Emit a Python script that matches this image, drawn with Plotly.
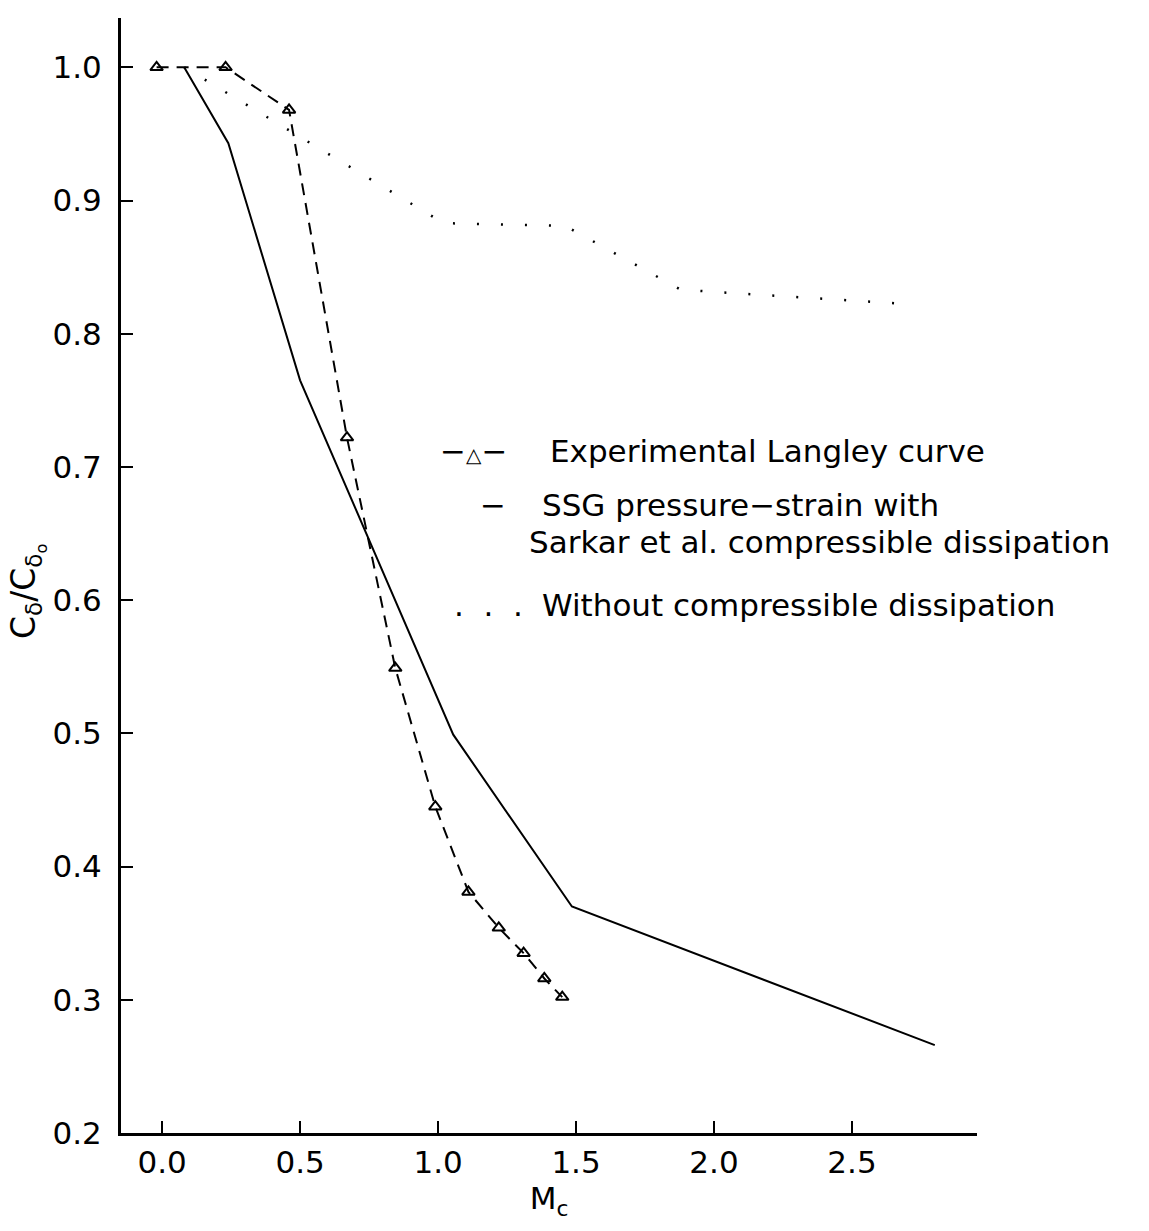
import plotly.graph_objects as go

# Experimental Langley curve
exp_mc = [-0.02, 0.23, 0.46, 0.67, 0.845, 0.99, 1.11, 1.22, 1.31, 1.385, 1.45]
exp_val = [1.000, 1.000, 0.968, 0.722, 0.549, 0.445, 0.381, 0.354, 0.335, 0.316, 0.302]

# SSG pressure-strain with Sarkar et al. compressible dissipation
ssg_mc = [0.08, 0.24, 0.50, 1.055, 1.485, 2.80]
ssg_val = [1.000, 0.943, 0.765, 0.499, 0.370, 0.266]

# Without compressible dissipation
nocd_mc = [0.08, 1.02, 1.46, 1.88, 2.72]
nocd_val = [1.000, 0.883, 0.881, 0.833, 0.822]

x_ticks = [0.0, 0.5, 1.0, 1.5, 2.0, 2.5]
x_ticklabels = ["0.0", "0.5", "1.0", "1.5", "2.0", "2.5"]
y_ticks = [0.2, 0.3, 0.4, 0.5, 0.6, 0.7, 0.8, 0.9, 1.0]
y_ticklabels = ["0.2", "0.3", "0.4", "0.5", "0.6", "0.7", "0.8", "0.9", "1.0"]

legend_symbols = ["\u2212<span style='font-size:20px'>\u25b3</span>\u2212", "\u2212", ".&nbsp;&nbsp;.&nbsp;&nbsp;."]
legend_lines = ["Experimental Langley curve", "SSG pressure\u2212strain with",
                "Sarkar et al. compressible dissipation", "Without compressible dissipation"]

FONT = "DejaVu Sans"
FS = 31

fig = go.Figure()
fig.add_trace(go.Scatter(
    x=exp_mc, y=exp_val, mode="lines+markers",
    name=legend_lines[0],
    line=dict(color="black", width=2, dash="12px,8px"),
    marker=dict(symbol="triangle-up-open", size=11, color="black", line=dict(width=2, color="black")),
))
fig.add_trace(go.Scatter(
    x=ssg_mc, y=ssg_val, mode="lines",
    name=legend_lines[1] + " " + legend_lines[2],
    line=dict(color="black", width=2),
))
fig.add_trace(go.Scatter(
    x=nocd_mc, y=nocd_val, mode="lines",
    name=legend_lines[3],
    line=dict(color="black", width=2.5, dash="2px,22px"),
))

PL, PR, PT, PB = 121, 977, 18, 1133


def px(x):
    return (x - PL) / (PR - PL)


def py(y):
    return (PB - y) / (PB - PT)


fig.update_layout(
    width=1149, height=1231,
    margin=dict(l=PL, r=1149 - PR, t=PT, b=1231 - PB),
    paper_bgcolor="white", plot_bgcolor="white",
    font=dict(family=FONT, size=FS, color="black"),
    showlegend=False,
    xaxis=dict(
        range=[-0.149, 2.953],
        tickmode="array", tickvals=x_ticks, ticktext=x_ticklabels,
        ticks="inside", ticklen=12, tickwidth=2, tickcolor="black",
        showline=True, linecolor="black", linewidth=3,
        showgrid=False, zeroline=False,
        tickfont=dict(family=FONT, size=31),
        title=dict(text="M<sub>c</sub>", font=dict(family=FONT, size=31), standoff=8),
    ),
    yaxis=dict(
        range=[0.2, 1.037],
        tickmode="array", tickvals=y_ticks, ticktext=y_ticklabels,
        ticks="inside", ticklen=12, tickwidth=2, tickcolor="black",
        showline=True, linecolor="black", linewidth=3,
        showgrid=False, zeroline=False,
        tickfont=dict(family=FONT, size=31),
        ticklabelstandoff=10,
    ),
)

# y-axis title
fig.add_annotation(
    xref="paper", yref="paper", x=px(27), y=py(592),
    text="C<sub>\u03b4</sub>/C<sub>\u03b4<sub>o</sub></sub>",
    textangle=-90, showarrow=False,
    font=dict(family=FONT, size=33, color="black"),
    xanchor="center", yanchor="middle",
)

# legend (text with symbol glyphs, as in the original)
sym_pos = [(438, 451), (478, 505), (452, 605)]
for s, (x0, y0) in zip(legend_symbols, sym_pos):
    fig.add_annotation(xref="paper", yref="paper", x=px(x0), y=py(y0), text=s,
                       showarrow=False, xanchor="left", yanchor="middle",
                       font=dict(family=FONT, size=FS, color="black"))
txt_pos = [(548, 451), (540, 505), (527, 542), (540, 605)]
for t, (x0, y0) in zip(legend_lines, txt_pos):
    fig.add_annotation(xref="paper", yref="paper", x=px(x0), y=py(y0), text=t,
                       showarrow=False, xanchor="left", yanchor="middle",
                       font=dict(family=FONT, size=FS, color="black"))

fig.write_html("out.html")
